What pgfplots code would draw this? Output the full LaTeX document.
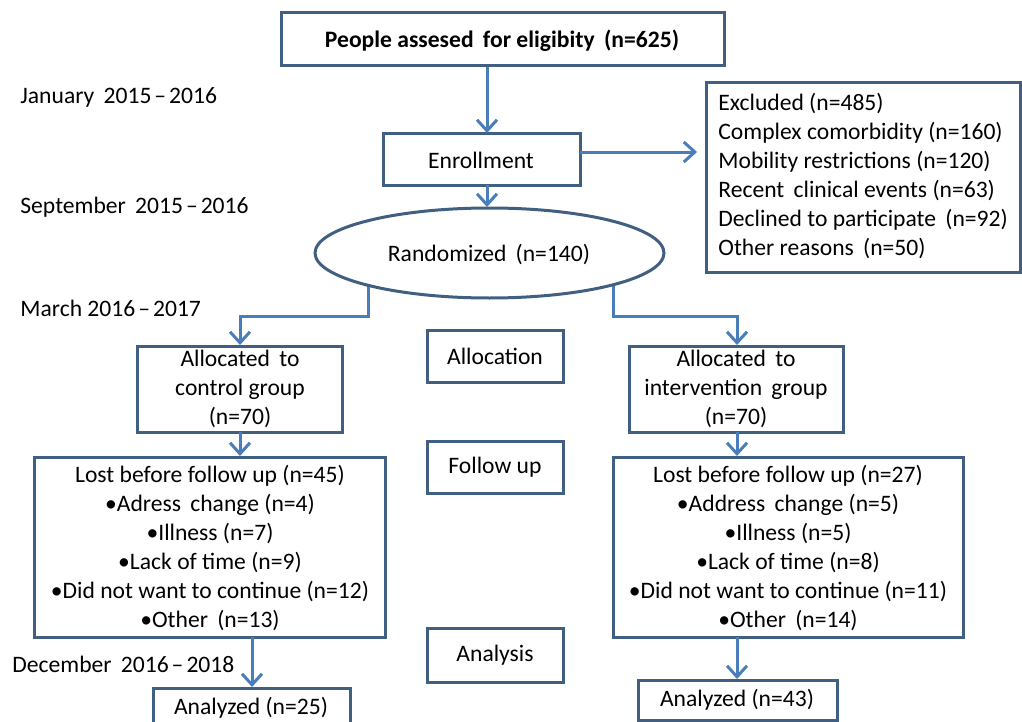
\documentclass[border=0pt]{standalone}
\usepackage{pgfplots}
\pgfplotsset{compat=1.18}
\usepackage{fontspec}
\setmainfont{Carlito}
\usetikzlibrary{arrows.meta,shapes.geometric}
\definecolor{boxc}{RGB}{65,95,128}
\definecolor{arrc}{RGB}{74,126,187}
\newcommand{\dd}{\kern1.5pt–\kern1.5pt}
\begin{document}
\begin{tikzpicture}[font=\fontsize{11.8}{14.5}\selectfont]
\begin{axis}[scale only axis, width=511pt, height=361pt,
  xmin=0, xmax=1022, ymin=0, ymax=722, y dir=reverse, hide axis, clip=false,
  box/.style={draw=boxc, line width=1.5pt, mark=none, line join=miter},
  arr/.style={draw=arrc, line width=1.5pt, mark=none, -{Straight Barb[length=5.5pt,width=10pt,line width=1.5pt]}}]
% boxes
\addplot[box] coordinates {(281,13)(724,13)(724,66)(281,66)} -- cycle;
\addplot[box] coordinates {(383,134)(580,134)(580,185)(383,185)} -- cycle;
\addplot[box] coordinates {(706,83)(1020,83)(1020,272)(706,272)} -- cycle;
\addplot[box] coordinates {(427,330)(563,330)(563,382)(427,382)} -- cycle;
\addplot[box] coordinates {(137,346)(342,346)(342,432)(137,432)} -- cycle;
\addplot[box] coordinates {(629,346)(843,346)(843,432)(629,432)} -- cycle;
\addplot[box] coordinates {(427,441)(563,441)(563,493)(427,493)} -- cycle;
\addplot[box] coordinates {(34,457)(385,457)(385,637)(34,637)} -- cycle;
\addplot[box] coordinates {(613,457)(963,457)(963,637)(613,637)} -- cycle;
\addplot[box] coordinates {(427,628)(563,628)(563,682)(427,682)} -- cycle;
\addplot[box] coordinates {(153,725)(153,688)(350,688)(350,725)};
\addplot[box] coordinates {(638,680)(837,680)(837,720)(638,720)} -- cycle;
% arrows
\addplot[arr] coordinates {(487,67)(487,133)};
\addplot[arr] coordinates {(580,152)(697,152)};
\addplot[arr] coordinates {(487,185)(487,207)};
\addplot[arr] coordinates {(368,284)(368,316)(240,316)(240,345)};
\addplot[arr] coordinates {(613,284)(613,316)(737,316)(737,345)};
\addplot[arr] coordinates {(240,432)(240,456)};
\addplot[arr] coordinates {(737,432)(737,456)};
\addplot[arr] coordinates {(252,637)(252,687)};
\addplot[arr] coordinates {(737,637)(737,679)};
% ellipse
\node[draw=boxc, line width=1.5pt, ellipse, minimum width=174.5pt, minimum height=45pt, inner sep=0pt] at (axis cs:489.5,253) {};
% texts
\node at (axis cs:502,41) {\textbf{People assesed\, for eligibity\, (n=625)}};
\node at (axis cs:481,160) {Enrollment};
\node[anchor=west, inner sep=0pt, align=left] at (axis cs:718,176) {Excluded (n=485)\\Complex comorbidity (n=160)\\Mobility restrictions (n=120)\\Recent\, clinical events (n=63)\\Declined to participate\, (n=92)\\Other reasons\, (n=50)};
\node at (axis cs:489,255) {Randomized\, (n=140)};
\node at (axis cs:495,356) {Allocation};
\node[align=center] at (axis cs:240,389) {Allocated\, to\\control group\\(n=70)};
\node[align=center] at (axis cs:736,389) {Allocated\, to\\intervention\, group\\(n=70)};
\node at (axis cs:495,467) {Follow up};
\node at (axis cs:495,655) {Analysis};
\node[align=center] at (axis cs:210,548) {Lost before follow up (n=45)\\•Adress\, change (n=4)\\•Illness (n=7)\\•Lack of time (n=9)\\•Did not want to continue (n=12)\\•Other\, (n=13)};
\node[align=center] at (axis cs:788,548) {Lost before follow up (n=27)\\•Address\, change (n=5)\\•Illness (n=5)\\•Lack of time (n=8)\\•Did not want to continue (n=11)\\•Other\, (n=14)};
\node at (axis cs:251,708) {Analyzed (n=25)};
\node at (axis cs:737,700) {Analyzed (n=43)};
\node[anchor=west, inner sep=0pt] at (axis cs:20,97) {January\, 2015\dd2016};
\node[anchor=west, inner sep=0pt] at (axis cs:20,207) {September\, 2015\dd2016};
\node[anchor=west, inner sep=0pt] at (axis cs:20,308) {March 2016\dd2017};
\node[anchor=west, inner sep=0pt] at (axis cs:12,664) {December\, 2016\dd2018};
\end{axis}
\pgfresetboundingbox
\path[use as bounding box] (current axis.south west) rectangle (current axis.north east);
\end{tikzpicture}
\end{document}
